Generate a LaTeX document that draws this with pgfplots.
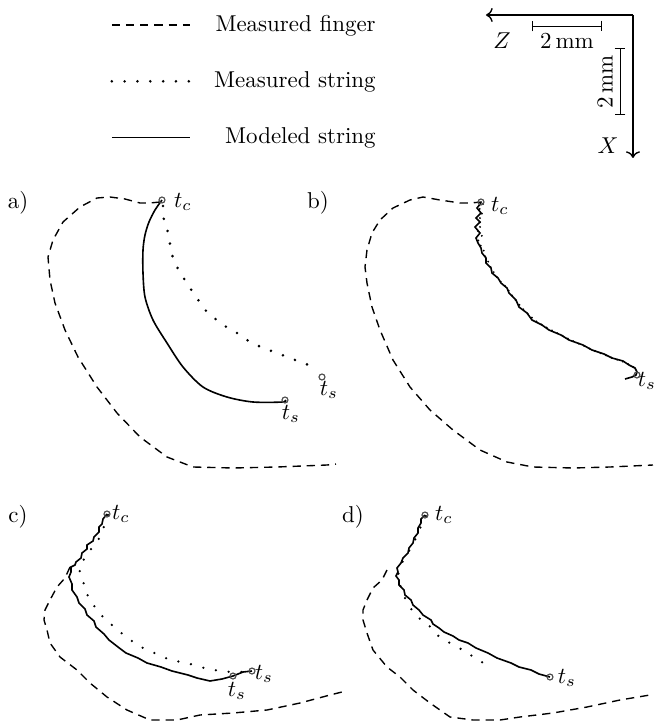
\documentclass[border=0pt]{standalone}
\usepackage{pgfplots}
\pgfplotsset{compat=1.18}
\usetikzlibrary{arrows.meta}

% pixel grid of the figure: 1px = 0.436pt, y grows downwards
\pgfplotsset{
  finger/.style={black, line width=0.6pt, dash pattern=on 3.6pt off 2.6pt},
  measured/.style={black, line width=1.25pt, line cap=round, dash pattern=on 0pt off 5.6pt},
  modeled/.style={black, line width=0.7pt},
  endpt/.style={only marks, mark=o, mark size=1.3pt, mark options={black!70, line width=0.5pt}},
}

\begin{document}
\begin{tikzpicture}
\begin{axis}[
  scale only axis, width=286.45pt, height=316.1pt,
  xmin=0, xmax=657, ymin=0, ymax=725, y dir=reverse,
  hide axis, clip=false,
  legend image code/.code={\draw[#1] (0pt,0pt) -- (34pt,0pt);},
  legend style={at={(axis cs:103,8)}, anchor=north west, draw=none, fill=none,
    row sep=14pt, column sep=9pt, nodes={inner sep=1pt, font=\normalsize}},
  legend cell align=right,
]
\addlegendimage{finger}
\addlegendimage{measured}
\addlegendimage{modeled}
\legend{Measured finger, Measured string, Modeled string}

% ---- a)
\addplot[finger] coordinates {
(160,202) (150,203) (140,203) (125,199) (110,197) (97,198) (80,207) (63,222)
(53,240) (48,257) (50,280) (55,303) (65,330) (78,357) (97,387) (117,413)
(140,437) (167,457) (193,467) (233,468) (277,467) (327,465) (336,464)};
\addplot[modeled, smooth] coordinates {
(162,200) (155,210) (149,222) (145,235) (143,250) (143,273) (145,297) (153,320)
(167,343) (183,367) (203,387) (227,397) (253,402) (283,402) (285,400)};
\addplot[measured] coordinates {
(163,206) (164,222) (168,232) (170,244) (172,255) (177,267) (183,277) (190,288)
(197,298) (203,308) (213,317) (223,325) (237,333) (250,342) (263,348) (277,353)
(290,358) (303,363) (315,367)};
\addplot[endpt] coordinates {(162,200) (285,400) (322,377)};

% ---- b)
\addplot[finger] coordinates {
(482,202) (470,203) (460,203) (440,200) (423,197) (410,200) (393,208) (380,220)
(372,233) (367,250) (365,267) (367,283) (372,307) (380,330) (393,360) (410,387)
(430,410) (453,430) (480,450) (507,462) (533,467) (573,468) (610,467) (653,465)};
\addplot[measured, line width=0.9pt, dash pattern=on 0pt off 2.6pt] coordinates {
(483,204) (479,210) (483,215) (478,220) (482,225) (477,230) (482,236) (478,241)
(481,246) (484,251) (485,256) (488,261) (490,266) (493,271) (496,276) (500,281)
(505,286) (509,291) (513,297) (518,303) (523,309) (529,315) (536,321) (544,326)
(553,331) (563,336) (573,341) (584,346) (595,351) (605,355) (615,359) (624,362)
(632,366) (637,370)};
\addplot[modeled] coordinates {
(481,203) (477,208) (481,213) (476,218) (480,222) (475,227) (480,233) (476,238)
(478,243) (481,248) (482,253) (486,258) (486,263) (491,268) (492,273) (498,278)
(501,283) (507,288) (509,293) (516,300) (519,307) (527,313) (532,320) (542,325)
(549,330) (561,335) (569,340) (583,345) (592,350) (604,354) (612,358) (623,361)
(629,365) (635,368) (637,372) (636,375) (632,377) (625,379)};
\addplot[endpt] coordinates {(481,202) (637,375)};

% ---- c)
\addplot[finger] coordinates {
(70,567) (65,578) (57,587) (50,600) (45,610) (44,620) (47,630) (50,643)
(60,657) (77,670) (90,683) (107,697) (127,710) (150,720) (177,720) (200,715)
(233,713) (267,710) (300,703) (330,695) (342,692)};
\addplot[measured, line width=1.1pt] coordinates {
(108,515) (105,522) (103,530) (100,537) (96,543) (92,548) (88,553) (85,558)
(81,563) (79,568) (80,572) (83,580) (85,590) (90,600) (97,610) (103,617)
(112,625) (120,632) (128,638) (137,645) (147,650) (157,654) (170,660) (187,663)
(200,667) (213,670) (230,672) (250,672)};
\addplot[modeled] coordinates {
(107,514) (103,519) (102,524) (99,527) (99,532) (94,537) (93,541) (87,545)
(87,549) (82,553) (81,558) (76,562) (75,565) (71,567) (71,572) (69,577)
(72,584) (72,590) (77,597) (79,603) (85,609) (87,615) (94,621) (96,627)
(104,634) (109,640) (118,647) (126,653) (138,658) (147,663) (161,667) (172,671)
(188,675) (197,678) (210,681) (222,679) (233,676) (243,672) (252,671)};
\addplot[endpt] coordinates {(107,514) (233,676) (252,671)};

% ---- d)
\addplot[finger] coordinates {
(387,570) (382,580) (373,588) (367,600) (363,610) (363,620) (367,633) (373,650)
(387,667) (400,677) (413,690) (430,703) (450,717) (473,720) (500,720) (520,717)
(553,713) (587,707) (620,700) (650,695)};
\addplot[measured, line width=1.1pt] coordinates {
(426,516) (421,526) (417,536) (412,546) (406,556) (400,566) (398,576) (401,588)
(407,603) (417,617) (427,623) (437,635) (453,645) (467,652) (477,660) (493,667)};
\addplot[modeled] coordinates {
(425,515) (421,519) (421,523) (418,528) (418,533) (414,538) (413,543) (409,548)
(408,553) (403,558) (401,563) (397,568) (398,572) (396,576) (399,580) (399,585)
(404,590) (405,595) (411,600) (413,605) (419,610) (423,615) (431,620) (433,624)
(439,628) (444,632) (453,636) (459,640) (468,643) (476,648) (488,653) (497,658)
(511,663) (519,667) (531,670) (539,674) (550,677)};
\addplot[endpt] coordinates {(425,515) (550,677)};

% ---- labels
\node at (axis cs:18,203) {a)};
\node at (axis cs:318,203) {b)};
\node at (axis cs:18,517) {c)};
\node at (axis cs:353,517) {d)};
\node at (axis cs:183,202) {$t_c$};
\node at (axis cs:291,414) {$t_s$};
\node at (axis cs:329,390) {$t_s$};
\node at (axis cs:500,206) {$t_c$};
\node at (axis cs:647,381) {$t_s$};
\node at (axis cs:121,514) {$t_c$};
\node at (axis cs:237,691) {$t_s$};
\node at (axis cs:264,674) {$t_s$};
\node at (axis cs:444,515) {$t_c$};
\node at (axis cs:567,678) {$t_s$};

% ---- orientation and scale
\draw[->, line width=0.6pt] (axis cs:633,15) -- (axis cs:486,15);
\draw[->, line width=0.6pt] (axis cs:633,15) -- (axis cs:633,158);
\node at (axis cs:502,41) {$Z$};
\node at (axis cs:608,146) {$X$};
\draw[|-|, line width=0.4pt] (axis cs:532,26) -- (axis cs:602,26);
\node at (axis cs:567,41) {2\,mm};
\draw[|-|, line width=0.4pt] (axis cs:620,48) -- (axis cs:620,115);
\node[rotate=90] at (axis cs:605,82) {2\,mm};
\end{axis}
\pgfresetboundingbox
\path (current axis.south west) rectangle (current axis.north east);
\end{tikzpicture}
\end{document}
